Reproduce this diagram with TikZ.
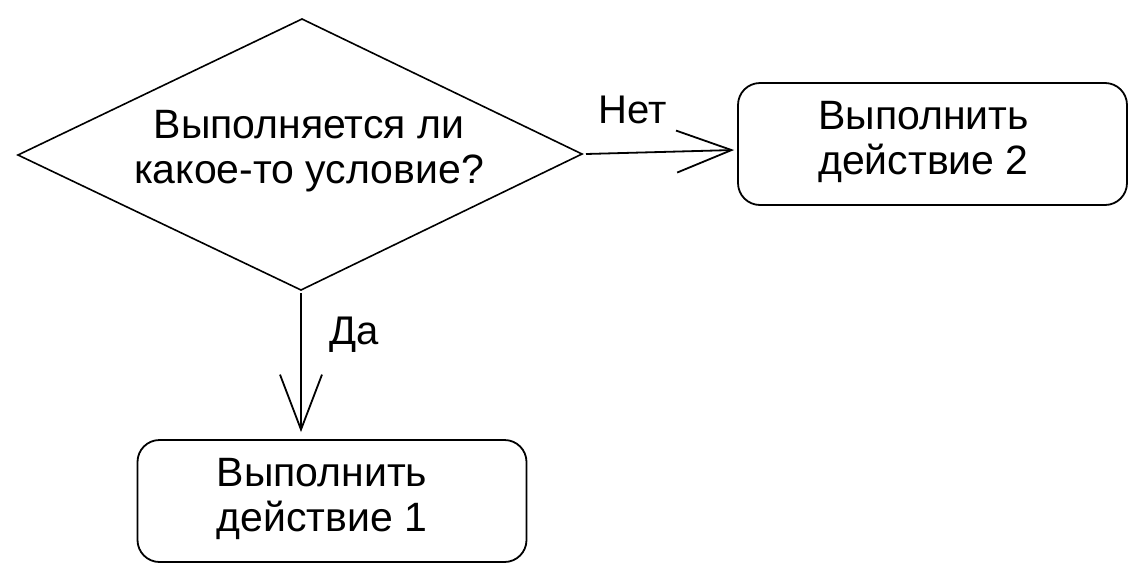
\documentclass[tikz,border=0pt]{standalone}
\usepackage{fontspec}
\setmainfont{Liberation Sans}
\usetikzlibrary{arrows.meta}
\begin{document}
\begin{tikzpicture}[x=1pt,y=-1pt,
  txt/.style={font=\fontsize{41}{45}\selectfont,align=center},
  act/.style={draw,line width=1.8pt,rounded corners=22pt,minimum width=389pt,minimum height=122pt,inner sep=0pt},
  arr/.style={line width=1.8pt,-{Straight Barb[length=55pt,width=42pt,line width=1.8pt]}},
  lbl/.style={font=\fontsize{40}{43}\selectfont}]
\useasboundingbox (0,0) rectangle (1146,584);
\coordinate (dW) at (18,155);
\coordinate (dN) at (302,19);
\coordinate (dE) at (582,154);
\coordinate (dS) at (301,290);
\draw[line width=1.6pt,line join=miter] (dW) -- (dN) -- (dE) -- (dS) -- cycle;
\node[txt] (dia) at (309,151) {Выполняется ли\\какое-то условие?};
\node[act] (b2) at (932.5,144) {};
\node[txt] (t2) at ([xshift=-9pt,yshift=2pt]b2.center) {Выполнить\\действие 2};
\node[act] (b1) at (332,501) {};
\node[txt] (t1) at ([xshift=-10pt,yshift=2pt]b1.center) {Выполнить\\действие 1};
\draw[arr] ([xshift=4pt]dE) -- ([xshift=-3pt,yshift=-6pt]b2.west);
\draw[arr] ([yshift=-3pt]dS) -- ([yshift=7pt]b1.north -| dS);
\node[lbl] (no) at (633,110) {Нет};
\node[lbl] (yes) at (354,335) {Да};
\end{tikzpicture}
\end{document}
